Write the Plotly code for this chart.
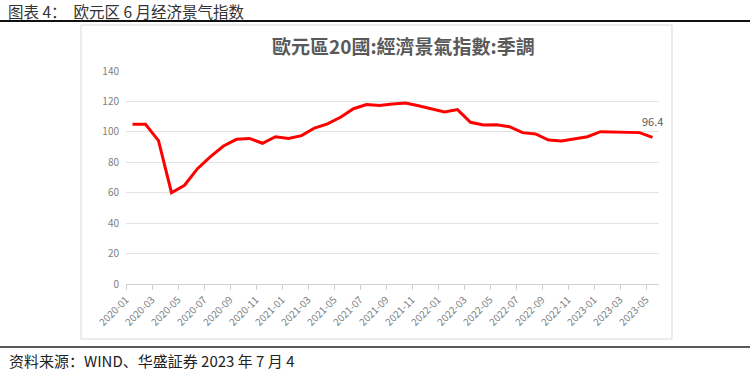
import plotly.graph_objects as go

W, H = 750, 379

months = []
for yr in (2020, 2021, 2022, 2023):
    for m in range(1, 13):
        if yr == 2023 and m > 5:
            break
        months.append(f"{yr}-{m:02d}")

esi = [105.0, 105.0, 94.2, 60.0, 64.9, 75.8, 83.7, 90.7, 95.1, 95.7,
       92.5, 96.8, 95.7, 97.5, 102.5, 105.2, 109.6, 115.2, 118.0, 117.4,
       118.3, 119.0, 117.2, 115.2, 113.1, 114.6, 106.3, 104.5, 104.6, 103.4,
       99.5, 98.6, 94.6, 94.0, 95.3, 96.8, 100.1, 99.9, 99.5, 99.5,
       96.4]

yticks = [0, 20, 40, 60, 80, 100, 120, 140]

idx = list(range(len(months)))
tickpos = [i - 0.5 for i in idx if i % 2 == 0]
ticklab = [months[i] for i in idx if i % 2 == 0]

def px(x):
    return x / W

def py(y):
    return 1 - y / H

fig = go.Figure()
fig.add_trace(go.Scatter(
    x=idx, y=esi, mode="lines",
    line=dict(color="#ff0000", width=3),
    hoverinfo="skip", showlegend=False,
))

tick_font = dict(family="Noto Sans CJK SC, Noto Sans, sans-serif", size=10, color="#808080")

fig.update_layout(
    template="none",
    width=W, height=H,
    margin=dict(l=0, r=0, t=0, b=0, pad=0),
    paper_bgcolor="white", plot_bgcolor="white",
    xaxis=dict(
        domain=[px(126), px(659)],
        range=[-0.5, len(months) - 0.5],
        tickmode="array", tickvals=tickpos, ticktext=ticklab,
        tickangle=-45, tickfont=tick_font,
        showgrid=False, zeroline=False, automargin=False,
        showline=True, linecolor="#d0d0d0", linewidth=1,
        ticks="outside", ticklen=5, tickcolor="#d0d0d0",
    ),
    yaxis=dict(
        domain=[py(284), py(71)],
        range=[0, 140],
        tickmode="array", tickvals=yticks,
        tickfont=tick_font, automargin=False,
        showgrid=True, gridcolor="#e3e3e3", gridwidth=1,
        zeroline=False, showline=False,
        ticks="", ticklabelstandoff=6,
    ),
    font=dict(family="Noto Sans CJK SC, sans-serif"),
)

# chart frame
fig.add_shape(type="rect", xref="paper", yref="paper",
              x0=px(81), x1=px(672), y0=py(339), y1=py(25),
              line=dict(color="#d9d9d9", width=1), layer="below")
# top & bottom rules
fig.add_shape(type="line", xref="paper", yref="paper",
              x0=0, x1=1, y0=py(21), y1=py(21),
              line=dict(color="#111111", width=2))
fig.add_shape(type="line", xref="paper", yref="paper",
              x0=0, x1=1, y0=py(347), y1=py(347),
              line=dict(color="#222222", width=1.5))

# heading
fig.add_annotation(xref="paper", yref="paper", x=px(6), y=py(11),
                   xanchor="left", yanchor="middle", showarrow=False,
                   text="图表 4：  欧元区 6 月经济景气指数",
                   font=dict(family="Noto Sans CJK SC", size=15.5, color="#333333"))
# chart title
fig.add_annotation(xref="paper", yref="paper", x=px(403), y=py(45),
                   xanchor="center", yanchor="middle", showarrow=False,
                   text="<b>歐元區20國:經濟景氣指數:季調</b>",
                   font=dict(family="Noto Sans CJK TC", size=19, color="#595959"))
# source
fig.add_annotation(xref="paper", yref="paper", x=px(7), y=py(360),
                   xanchor="left", yanchor="middle", showarrow=False,
                   text="资料来源：WIND、华盛証券 2023 年 7 月 4",
                   font=dict(family="Noto Sans CJK SC", size=15, color="#222222"))
# last value label
fig.add_annotation(x=idx[-1], y=esi[-1], xref="x", yref="y",
                   text=f"{esi[-1]}", showarrow=False, yshift=16,
                   font=dict(family="Noto Sans CJK SC", size=11, color="#595959"))

fig.write_html("out.html", config={"displayModeBar": False},
               post_script="document.body.style.margin='0';")
